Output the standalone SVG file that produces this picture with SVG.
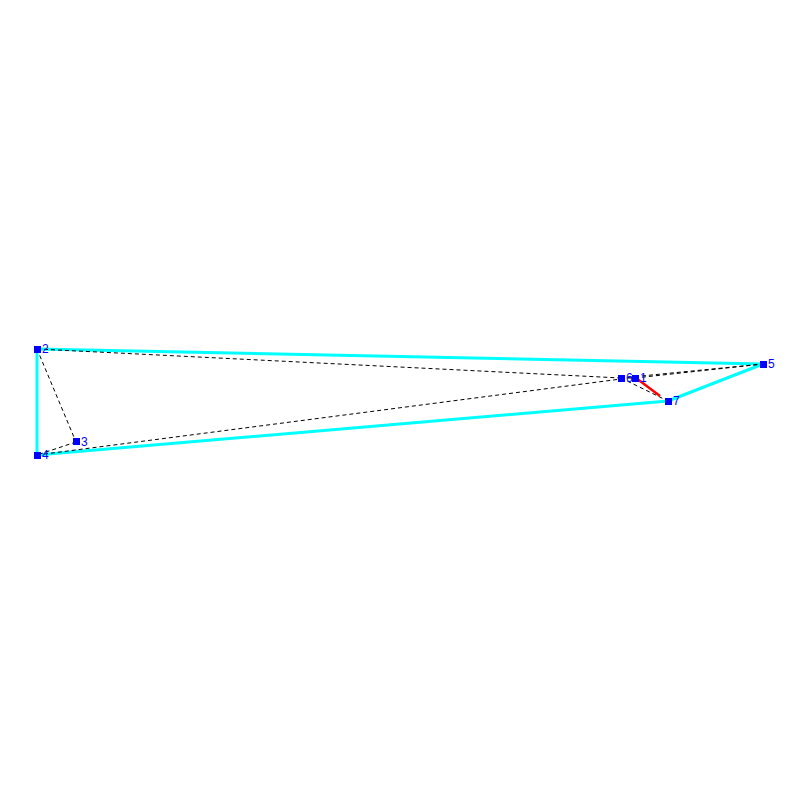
<svg xmlns="http://www.w3.org/2000/svg" width="800" height="800" viewBox="0 0 800 800">
<style>
.b{stroke:#00ffff;stroke-width:3;fill:none}
.d{stroke:#000;stroke-width:1;stroke-dasharray:4,3;fill:none}
.n{fill:#0000ff}
.t{font-family:"Liberation Sans",Arial,sans-serif;font-size:12px;fill:#0000ff}
</style>
<rect width="800" height="800" fill="#fff"/>
<g id="connectors">
<line class="b" x1="37" y1="349" x2="763" y2="364"/>
<line class="b" x1="763" y1="364" x2="668" y2="401"/>
<line class="b" x1="668" y1="401" x2="37" y2="455"/>
<line class="b" x1="37" y1="455" x2="37" y2="349"/>
<line class="d" x1="37" y1="349" x2="76" y2="442"/>
<line class="d" x1="76" y1="442" x2="37" y2="455"/>
<line class="d" x1="37" y1="349" x2="621" y2="378"/>
<line class="d" x1="37" y1="455" x2="621" y2="379"/>
<line class="d" x1="621" y1="378" x2="635" y2="378"/>
<line class="d" x1="635" y1="378" x2="763" y2="364"/>
<line class="d" x1="621" y1="378" x2="763" y2="364"/>
<line class="d" x1="621" y1="378" x2="668" y2="401"/>
<line x1="636" y1="378" x2="660" y2="396" stroke="#ff0000" stroke-width="2.5"/>
</g>
<g id="n1"><rect class="n" x="632" y="375" width="7" height="7"/><text class="t" x="640" y="382">1</text></g>
<g id="n2"><rect class="n" x="34" y="346" width="7" height="7"/><text class="t" x="42" y="353">2</text></g>
<g id="n3"><rect class="n" x="73" y="438" width="7" height="7"/><text class="t" x="81" y="446">3</text></g>
<g id="n4"><rect class="n" x="34" y="452" width="7" height="7"/><text class="t" x="42" y="459">4</text></g>
<g id="n5"><rect class="n" x="760" y="361" width="7" height="7"/><text class="t" x="768" y="368">5</text></g>
<g id="n6"><rect class="n" x="618" y="375" width="7" height="7"/><text class="t" x="626" y="382">6</text></g>
<g id="n7"><rect class="n" x="665" y="398" width="7" height="7"/><text class="t" x="673" y="405">7</text></g>
</svg>
